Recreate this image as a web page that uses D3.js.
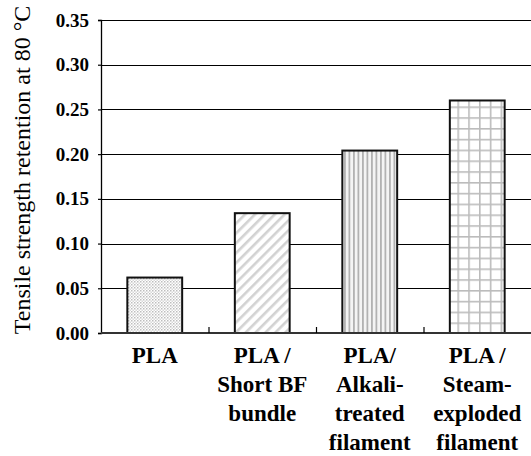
<!DOCTYPE html>
<html>
<head>
<meta charset="utf-8">
<script src="https://cdn.jsdelivr.net/npm/d3@7"></script>
</head>
<body style="margin:0;background:#fff">
<svg id="chart" width="531" height="456" style="display:block"></svg>
<script>
// Tensile strength retention at 80 °C for PLA and its basalt-fibre composites
const categories = ["PLA", "PLA/Short BF bundle", "PLA/Alkali-treated filament", "PLA/Steam-exploded filament"];
const labelLines = [
  ["PLA"],
  ["PLA /", "Short BF", "bundle"],
  ["PLA/", "Alkali-", "treated", "filament"],
  ["PLA /", "Steam-", "exploded", "filament"]
];
const values = [0.062, 0.134, 0.204, 0.260];
const yTicks = [0.00, 0.05, 0.10, 0.15, 0.20, 0.25, 0.30, 0.35];
const patternIds = ["dots", "diag", "vert", "grid"];
const yTitle = "Tensile strength retention at 80 °C";

const FONT = '"Liberation Serif", "Times New Roman", Tinos, FreeSerif, serif';

const svg = d3.select("#chart");
const margin = { left: 101, right: 0, top: 20, bottom: 123 };
const W = 531, H = 456;
const plotW = W - margin.left - margin.right;
const plotH = H - margin.top - margin.bottom;

// Fill patterns for the bars
const defs = svg.append("defs");
const pDots = defs.append("pattern").attr("id", "dots").attr("patternUnits", "userSpaceOnUse")
  .attr("width", 3).attr("height", 3);
pDots.append("rect").attr("width", 3).attr("height", 3).attr("fill", "#fff");
pDots.append("rect").attr("x", 0).attr("y", 0).attr("width", 1.5).attr("height", 1.5).attr("fill", "#bdbdbd");
pDots.append("rect").attr("x", 1.5).attr("y", 1.5).attr("width", 1.5).attr("height", 1.5).attr("fill", "#d8d8d8");

const pDiag = defs.append("pattern").attr("id", "diag").attr("patternUnits", "userSpaceOnUse")
  .attr("width", 7).attr("height", 7).attr("patternTransform", "rotate(-45)");
pDiag.append("rect").attr("width", 7).attr("height", 7).attr("fill", "#fff");
pDiag.append("rect").attr("x", 0).attr("y", 0).attr("width", 7).attr("height", 2.6).attr("fill", "#d2d2d2");

const pVert = defs.append("pattern").attr("id", "vert").attr("patternUnits", "userSpaceOnUse")
  .attr("width", 4.5).attr("height", 4);
pVert.append("rect").attr("width", 4.5).attr("height", 4).attr("fill", "#f4f4f4");
pVert.append("rect").attr("x", 0).attr("y", 0).attr("width", 1.8).attr("height", 4).attr("fill", "#b2b2b2");

const pGrid = defs.append("pattern").attr("id", "grid").attr("patternUnits", "userSpaceOnUse")
  .attr("width", 10.8).attr("height", 10.8);
pGrid.append("rect").attr("width", 10.8).attr("height", 10.8).attr("fill", "#fff");
pGrid.append("rect").attr("x", 0).attr("y", 0).attr("width", 1.6).attr("height", 10.8).attr("fill", "#bcbcbc");
pGrid.append("rect").attr("x", 0).attr("y", 0).attr("width", 10.8).attr("height", 1.6).attr("fill", "#bcbcbc");

const x = d3.scaleBand().domain(categories).range([0, plotW]).paddingInner(0.49).paddingOuter(0.245);
const band = d3.scaleBand().domain(categories).range([0, plotW]);
const y = d3.scaleLinear().domain([0, 0.35]).range([plotH, 0]);

const g = svg.append("g").attr("transform", `translate(${margin.left},${margin.top})`);

// Horizontal gridlines
g.append("g").selectAll("line").data(yTicks.filter(t => t > 0)).join("line")
  .attr("x1", 0).attr("x2", plotW)
  .attr("y1", d => Math.round(y(d)) + 0.5).attr("y2", d => Math.round(y(d)) + 0.5)
  .attr("stroke", "#000").attr("stroke-width", 1.2);

// Bars
g.append("g").selectAll("rect").data(values).join("rect")
  .attr("x", (d, i) => x(categories[i]))
  .attr("y", d => y(d))
  .attr("width", x.bandwidth())
  .attr("height", d => plotH - y(d))
  .attr("fill", (d, i) => `url(#${patternIds[i]})`)
  .attr("stroke", "#111").attr("stroke-width", 2);

// Y axis
const yAxis = d3.axisLeft(y).tickValues(yTicks).tickFormat(d3.format(".2f")).tickSize(3).tickPadding(9);
const ya = g.append("g").call(yAxis);
ya.attr("font-family", null).attr("font-size", null);
ya.select(".domain").attr("stroke", "#000").attr("stroke-width", 1.3);
ya.selectAll(".tick line").attr("stroke", "#000").attr("stroke-width", 1.2);
ya.selectAll("text")
  .style("font-family", FONT).style("font-weight", "bold").style("font-size", "19px")
  .attr("fill", "#000");

// X axis baseline with inward ticks at category boundaries
const xa = g.append("g").attr("transform", `translate(0,${plotH})`);
xa.append("line").attr("x1", 0).attr("x2", plotW).attr("y1", 0).attr("y2", 0)
  .attr("stroke", "#333").attr("stroke-width", 2);
xa.selectAll("line.tk").data(categories.slice(1)).join("line").attr("class", "tk")
  .attr("x1", d => band(d) + 0.5).attr("x2", d => band(d) + 0.5)
  .attr("y1", 0).attr("y2", -6).attr("stroke", "#000").attr("stroke-width", 1.2);

// Category labels
const lbl = xa.selectAll("text.cat").data(categories).join("text").attr("class", "cat")
  .attr("text-anchor", "middle")
  .style("font-family", FONT).style("font-size", "23px").style("font-weight", "bold")
  .attr("fill", "#000");
lbl.each(function(d, i) {
  const t = d3.select(this);
  labelLines[i].forEach((line, j) => {
    t.append("tspan").attr("x", x(d) + x.bandwidth() / 2).attr("y", 30 + j * 29)
      .text(line);
  });
});

// Y axis title
svg.append("text")
  .attr("transform", `translate(30,170) rotate(-90)`)
  .attr("text-anchor", "middle")
  .style("font-family", FONT).style("font-size", "24px")
  .attr("fill", "#000")
  .text(yTitle);
</script>
</body>
</html>
